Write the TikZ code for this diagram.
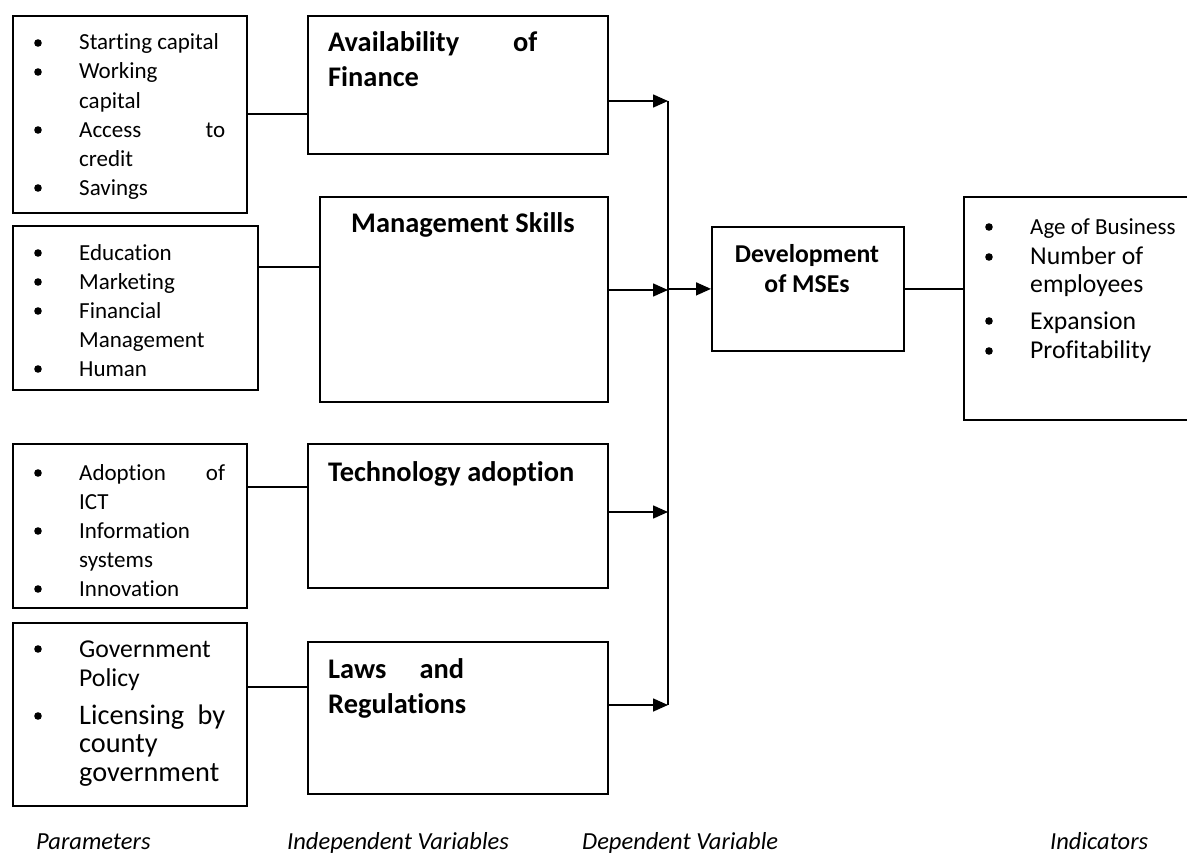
\documentclass[tikz,border=0pt]{standalone}
\usepackage{fontspec}
\setmainfont{Carlito}[Ligatures={NoCommon,NoContextual}]
\usetikzlibrary{arrows.meta}
\begin{document}
\begin{tikzpicture}[x=1pt,y=-1pt,
  box/.style={draw,line width=1.8pt,anchor=north west,inner sep=0pt,minimum width=#1},
  tl/.style={anchor=base west,inner sep=0pt},
  tc/.style={anchor=base,inner sep=0pt},
  conn/.style={line width=1.6pt},
  arr/.style={line width=1.6pt,-{Triangle[length=15pt,width=13pt]}},
  fA/.style={font=\fontsize{23}{28}\selectfont},
  fB/.style={font=\fontsize{25.7}{30}\selectfont},
  fC/.style={font=\fontsize{28.3}{34}\selectfont},
  ftitle/.style={font=\fontsize{28.4}{34}\selectfont\bfseries},
  fdv/.style={font=\fontsize{25.7}{30}\selectfont\bfseries},
  flab/.style={font=\fontsize{24.5}{30}\selectfont\itshape}
]
\newcommand\bul[2]{\fill (#1,#2) circle[radius=3.8pt];}
\useasboundingbox (0,0) rectangle (1187,867);

% parameter boxes
\node[box=234pt,minimum height=197pt] (p1) at (12,15) {};
\node[box=245pt,minimum height=164pt] (p2) at (12,225) {};
\node[box=234pt,minimum height=164pt] (p3) at (12,443) {};
\node[box=234pt,minimum height=183pt] (p4) at (12,622) {};

% independent variable boxes
\node[box=300pt,minimum height=138pt] (iv1) at (307,15) {};
\node[box=288pt,minimum height=205pt] (iv2) at (319,196) {};
\node[box=300pt,minimum height=144pt] (iv3) at (307,443) {};
\node[box=300pt,minimum height=152pt] (iv4) at (307,641) {};

% dependent variable and indicators
\node[box=192pt,minimum height=124pt] (dv) at (711,226) {};
\node[box=240pt,minimum height=223pt] (ind) at (963,196) {};

% P1 text
\bul{38}{43}\bul{38}{72}\bul{38}{130}\bul{38}{188}
\node[tl,fA] (p1a) at (79,50) {Starting capital};
\node[tl,fA] (p1b) at (79,79) {Working};
\node[tl,fA] (p1c) at (79,108) {capital};
\node[tl,fA] (p1d) at (79,137) {\hbox to 146pt{Access\hfill to}};
\node[tl,fA] (p1e) at (79,166) {credit};
\node[tl,fA] (p1f) at (79,195) {Savings};

% P2 text
\bul{38}{253}\bul{38}{282}\bul{38}{311}\bul{38}{369}
\node[tl,fA] (p2a) at (79,260) {Education};
\node[tl,fA] (p2b) at (79,289) {Marketing};
\node[tl,fA] (p2c) at (79,318) {Financial};
\node[tl,fA] (p2d) at (79,347) {Management};
\node[tl,fA] (p2e) at (79,376) {Human};

% P3 text
\bul{38}{473}\bul{38}{531}\bul{38}{589}
\node[tl,fA] (p3a) at (79,480) {\hbox to 146pt{Adoption\hfill of}};
\node[tl,fA] (p3b) at (79,509) {ICT};
\node[tl,fA] (p3c) at (79,538) {Information};
\node[tl,fA] (p3d) at (79,567) {systems};
\node[tl,fA] (p3e) at (79,596) {Innovation};

% P4 text
\bul{38}{649}\bul{38}{716}
\node[tl,fB] (p4a) at (79,657) {Government};
\node[tl,fB] (p4b) at (79,686) {Policy};
\node[tl,fC] (p4c) at (79,724) {\hbox to 146pt{Licensing\hfill by}};
\node[tl,fC] (p4d) at (79,752) {county};
\node[tl,fC] (p4e) at (79,781) {government};

% IV titles
\node[tl,ftitle] (t1a) at (328,52) {\hbox to 209pt{Availability\hfill of}};
\node[tl,ftitle] (t1b) at (328,87) {Finance};
\node[tc,ftitle] (t2) at (463,232) {Management Skills};
\node[tl,ftitle] (t3) at (328,481) {Technology adoption};
\node[tl,ftitle] (t4a) at (328,678) {\hbox to 136pt{Laws\hfill and}};
\node[tl,ftitle] (t4b) at (328,713) {Regulations};

% DV title
\node[tc,fdv] (d1) at (807,262) {Development};
\node[tc,fdv] (d2) at (807,292) {of MSEs};

% indicators text
\bul{989}{227}\bul{989}{257}\bul{989}{321}\bul{989}{351}
\node[tl,fA] (i1) at (1030,234) {Age of Business};
\node[tl,fB] (i2) at (1030,264) {Number of};
\node[tl,fB] (i3) at (1030,292) {employees};
\node[tl,fB] (i4) at (1030,329) {Expansion};
\node[tl,fB] (i5) at (1030,358) {Profitability};

% bottom labels
\node[tl,flab] (l1) at (36,849) {Parameters};
\node[tl,flab] (l2) at (287,849) {Independent Variables};
\node[tl,flab] (l3) at (582,849) {Dependent Variable};
\node[tl,flab] (l4) at (1050,849) {Indicators};

% connectors parameters -> IV
\draw[conn] ([yshift=-99pt]p1.north east) coordinate (c1) -- (c1 -| iv1.west);
\draw[conn] ([yshift=-42pt]p2.north east) coordinate (c2) -- (c2 -| iv2.west);
\draw[conn] ([yshift=-44pt]p3.north east) coordinate (c3) -- (c3 -| iv3.west);
\draw[conn] ([yshift=-65pt]p4.north east) coordinate (c4) -- (c4 -| iv4.west);

% bus
\coordinate (bt) at (668,101);
\coordinate (bb) at (668,705);
\draw[conn] (bt) -- (bb);
\draw[arr] ([yshift=-86pt]iv1.north east) coordinate (a1) -- (a1 -| bt);
\draw[arr] ([yshift=-94pt]iv2.north east) coordinate (a2) -- (a2 -| bt);
\draw[arr] ([yshift=-69pt]iv3.north east) coordinate (a3) -- (a3 -| bt);
\draw[arr] ([yshift=-64pt]iv4.north east) coordinate (a4) -- (a4 -| bt);
\draw[arr] (dv.west -| bt) -- (dv.west);

% DV -> indicators
\draw[conn] (dv.east) -- (dv.east -| ind.west);
\end{tikzpicture}
\end{document}
